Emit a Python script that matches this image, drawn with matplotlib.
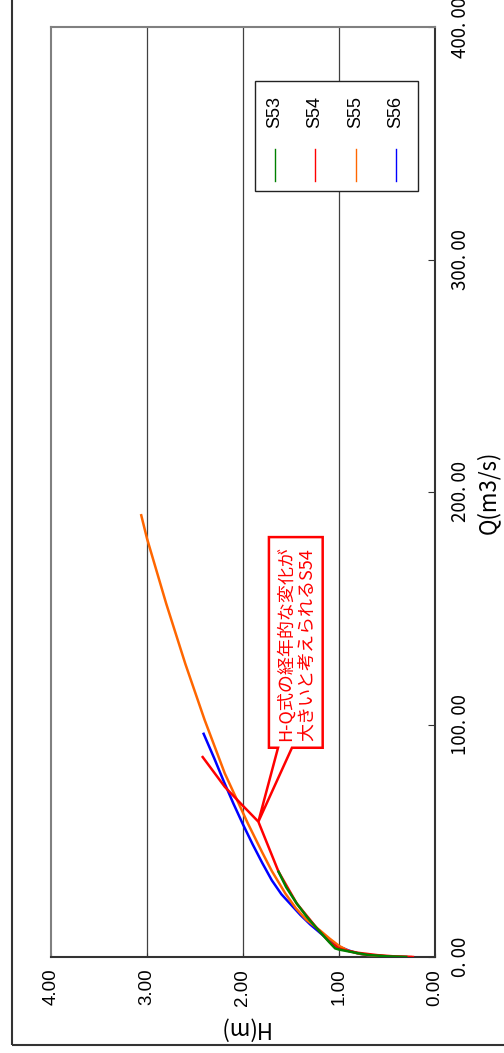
import matplotlib
matplotlib.use("Agg")
import matplotlib.pyplot as plt
from matplotlib.patches import Polygon, Rectangle

plt.rcParams['font.family'] = ['Noto Sans CJK JP', 'DejaVu Sans']

# H-Q curves (H in m, Q in m3/s)
h_s53 = [0.30, 0.50, 0.70, 0.80, 0.90, 1.00, 1.04, 1.10, 1.215, 1.33, 1.44, 1.55, 1.63]
q_s53 = [0.0, 0.3, 0.9, 1.6, 2.4, 3.2, 3.7, 6.3, 11.6, 17.0, 23.0, 30.0, 36.7]

h_s54 = [0.23, 0.40, 0.60, 0.80, 0.90, 1.00, 1.10, 1.215, 1.44, 1.63, 1.84, 2.00, 2.19, 2.42]
q_s54 = [0.0, 0.2, 0.8, 1.8, 2.6, 3.6, 6.5, 11.6, 23.0, 36.7, 58.2, 65.0, 73.2, 86.0]

h_s55 = [0.25, 0.50, 0.70, 0.80, 0.90, 1.00, 1.10, 1.20, 1.34, 1.45, 1.56, 1.70,
         1.80, 1.95, 2.19, 2.40, 2.60, 2.80, 3.00, 3.06]
q_s55 = [0.0, 0.3, 0.8, 1.5, 2.6, 4.8, 8.0, 11.5, 16.0, 21.0, 27.4, 37.0,
         45.0, 57.5, 79.0, 102.0, 126.0, 152.0, 180.0, 190.0]

h_s56 = [0.30, 0.50, 0.70, 0.80, 0.90, 1.00, 1.10, 1.20, 1.30, 1.40, 1.50, 1.60,
         1.70, 1.80, 1.90, 2.00, 2.10, 2.20, 2.30, 2.41]
q_s56 = [0.0, 0.2, 0.8, 1.5, 2.8, 4.5, 7.0, 10.5, 14.0, 18.0, 22.5, 27.0,
         33.0, 40.5, 48.5, 57.0, 66.0, 75.5, 85.5, 96.0]

series_names = ["S53", "S54", "S55", "S56"]
series_colors = ["#008000", "#FF0000", "#FF6600", "#0000FF"]

h_ticks = [0, 1, 2, 3, 4]
h_tick_labels = ["0.00", "1.00", "2.00", "3.00", "4.00"]
q_ticks = [0, 100, 200, 300, 400]
q_tick_labels = ["0. 00", "100. 00", "200. 00", "300. 00", "400. 00"]

note = "H-Q式の経年的な変化が\n大きいと考えられるS54"

fig = plt.figure(figsize=(5.04, 10.53), dpi=100)
ax = fig.add_axes([51 / 504, 96 / 1053, 384 / 504, 930 / 1053])

# chart is drawn turned 90 degrees: H runs right-to-left, Q bottom-to-top
ax.set_xlim(4, 0)
ax.set_ylim(0, 400)

for h in h_ticks[1:-1]:
    ax.axvline(h, color="#404040", lw=0.9, zorder=1)

ax.plot(h_s56, q_s56, color=series_colors[3], lw=1.8, zorder=3)
ax.plot(h_s55, q_s55, color=series_colors[2], lw=1.8, zorder=3)
ax.plot(h_s54, q_s54, color=series_colors[1], lw=1.8, zorder=3)
ax.plot(h_s53, q_s53, color=series_colors[0], lw=1.8, zorder=3)

ax.set_xticks(h_ticks, labels=h_tick_labels, rotation=90,
              fontfamily="Liberation Sans", fontsize=13.5)
ax.tick_params(axis="x", direction="in", length=3, pad=8.5, color="#333333")

ax.yaxis.tick_right()
ax.set_yticks(q_ticks, labels=q_tick_labels, rotation=90, fontsize=13.5)
for lab in ax.get_yticklabels():
    lab.set_va("center")
ax.tick_params(axis="y", direction="in", length=5, pad=11, color="#333333")

for side in ["left", "top"]:
    ax.spines[side].set_color("#808080")
    ax.spines[side].set_linewidth(1.5)
for side in ["right", "bottom"]:
    ax.spines[side].set_color("#333333")
    ax.spines[side].set_linewidth(1.5)

ax.text(0.5, -0.077, "H(m)", transform=ax.transAxes, rotation=180,
        ha="center", va="center", fontsize=16)
ax.text(1.138, 0.5, "Q(m3/s)", transform=ax.transAxes, rotation=90,
        ha="center", va="center", fontsize=16)

# callout
callout = Polygon([(1.73, 180.6), (1.17, 180.6), (1.17, 90), (1.49, 90),
                   (1.84, 58.2), (1.635, 90), (1.73, 90)],
                  closed=True, facecolor="white", edgecolor="#FF0000",
                  lw=1.8, zorder=5)
ax.add_patch(callout)
ax.text(1.45, 93, note, rotation=90, ha="center", va="bottom",
        multialignment="left", color="#FF0000", fontsize=13,
        linespacing=1.2, zorder=6)

# legend (turned with the chart)
ax.add_patch(Rectangle((0.531, 0.824), 0.425, 0.118, transform=ax.transAxes,
                       facecolor="white", edgecolor="#222222", lw=1.0, zorder=5))
leg_x = [0.583, 0.688, 0.794, 0.898]
for x, name, c in zip(leg_x, series_names, series_colors):
    ax.text(x, 0.909, name, transform=ax.transAxes, rotation=90,
            ha="center", va="center", fontsize=13,
            fontfamily="Liberation Sans", zorder=6)
    ax.plot([x, x], [0.834, 0.869], transform=ax.transAxes, color=c,
            lw=1.0, zorder=6)

fig.add_artist(Rectangle((12 / 504, 8 / 1053), 1.2, 1.2,
                         transform=fig.transFigure, fill=False,
                         edgecolor="#333333", lw=1.5))

fig.savefig("out.png", dpi=100)
